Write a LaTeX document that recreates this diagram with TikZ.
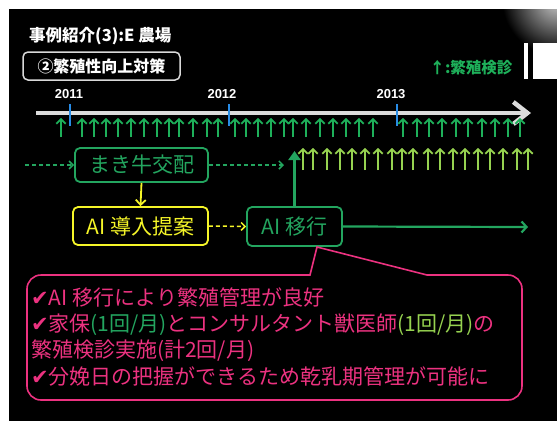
\documentclass[tikz,border=0pt]{standalone}
\usepackage{fontspec}
\setmainfont{Noto Sans CJK JP}
\newfontfamily\djv{DejaVu Sans}
\newfontfamily\arl{Liberation Sans}
\usetikzlibrary{arrows.meta}
\definecolor{tgreen}{RGB}{30,176,90}
\definecolor{lgreen}{RGB}{150,210,80}
\definecolor{bgreen}{RGB}{35,165,95}
\definecolor{yel}{RGB}{245,245,40}
\definecolor{pnk}{RGB}{236,50,128}
\definecolor{tblue}{RGB}{40,140,230}
\definecolor{tgray}{RGB}{220,220,220}
\begin{document}
\begin{tikzpicture}[x=1pt,y=-1pt,
  sarrow/.style={line width=1.8pt,-{Straight Barb[length=4.5pt,width=9.5pt]}},
  gbox/.style={draw=bgreen,text=bgreen,line width=1.8pt,rounded corners=5pt,inner sep=0pt,font=\fontsize{21}{24}\selectfont},
  ybox/.style={draw=yel,text=yel,line width=1.8pt,rounded corners=5pt,inner sep=0pt,font=\fontsize{21}{24}\selectfont},
  yeartxt/.style={text=white,inner sep=0pt,font=\arl\bfseries\fontsize{13}{15}\selectfont},
  cotext/.style={anchor=west,text=pnk,inner sep=0pt,font=\fontsize{21}{24}\selectfont},
  dasharr/.style={dash pattern=on 4pt off 3pt,line width=1.5pt,-{Straight Barb[length=4pt,width=8pt]}}
]
\useasboundingbox (0,0) rectangle (557,421);
\fill[white] (0,0) rectangle (557,421);
\fill[black] (9,9) rectangle (557,421);
\begin{scope}
  \clip (9,9) rectangle (557,421);
  \shade[inner color=gray!40, outer color=black] (557,0) circle (55);
\end{scope}
\fill[white] (524,43) rectangle (528,79);
\fill[white] (533,43) rectangle (557,79);

% title and subtitle
\node[anchor=west,text=white,inner sep=0pt,font=\fontsize{16.5}{19}\selectfont\bfseries] (title) at (29,36) {事例紹介(3):E 農場};
\node[draw=white!85!black,line width=1.5pt,rounded corners=5pt,minimum width=157pt,minimum height=28pt,inner sep=0pt,text=white,font=\fontsize{16}{19}\selectfont\bfseries] (sub) at (101.5,66) {②繁殖性向上対策};
\node[text=tgreen,inner sep=0pt,font=\fontsize{15.5}{18}\selectfont\bfseries] (legend) at (471,68) {↑:繁殖検診};

% years
\node[yeartxt] (y2011) at (69,94) {2011};
\node[yeartxt] (y2012) at (222,94) {2012};
\node[yeartxt] (y2013) at (391,94) {2013};

% timeline
\coordinate (tl0) at (36,113);
\coordinate (tl1) at (531,113);
\draw[tgray,line width=4.5pt,-{Straight Barb[length=14pt,width=22pt]}] (tl0) -- (tl1);
\foreach \x in {70,229,397} \draw[tblue,line width=2pt] (\x,104) -- (\x,126);

% exam arrows
\foreach \x in {61,82,94,106,118,131,144,157,169,179,193,207,218,235,246,258,271,284,293,306,320,333,346,359,373,403,417,429,442,456,468,482,495,508,520}
  \draw[sarrow,tgreen] (\x,137) -- (\x,118);
\foreach \x in {303,313,327,340,352,365,378,392,402,413,428,440,453,465,478,490,503,517,528}
  \draw[sarrow,lgreen] (\x,170) -- (\x,148);

% boxes
\node[gbox,minimum width=133pt,minimum height=34pt] (maki) at (141.5,165) {まき牛交配};
\node[ybox,minimum width=135pt,minimum height=38pt] (ai1) at (140.5,226) {AI 導入提案};
\node[gbox,minimum width=95pt,minimum height=39pt] (ai2) at (294.5,226.5) {AI 移行};

\coordinate (ds) at (25,165);
\coordinate (de) at (284,165);
\coordinate (up) at (294.5,151);
\coordinate (re) at (528,227);
\draw[dasharr,bgreen] (ds) -- (maki.west);
\draw[dasharr,bgreen] (maki.east) -- (de);
\draw[yel,line width=1.8pt,-{Straight Barb[length=5pt,width=10pt]}] (maki.south) -- (ai1.north);
\draw[dasharr,yel] (ai1.east) -- (ai2.west);
\draw[bgreen,line width=3pt,-{Triangle[length=9pt,width=12pt]}] (ai2.north) -- (up);
\draw[bgreen,line width=2.2pt,-{Straight Barb[length=5pt,width=11pt]}] (ai2.east) -- (re);

% callout
\coordinate (tip) at (317,247);
\coordinate (pl) at (310,275);
\coordinate (pr) at (427,275);
\draw[pnk,line width=1.6pt] (pl) -- (tip) -- (pr) [rounded corners=14pt] -- (522,275) -- (522,400) -- (27,400) -- (27,275) [sharp corners] -- cycle;

\node[cotext] (l1) at (31,298) {{\djv ✔}AI 移行により繁殖管理が良好};
\node[cotext] (l2) at (31,325) {{\djv ✔}家保\textcolor{bgreen}{(1回/月)}とコンサルタント獣医師\textcolor{lgreen}{(1回/月)}の};
\node[cotext] (l3) at (31,351) {繁殖検診実施(計2回/月)};
\node[cotext] (l4) at (31,377) {{\djv ✔}分娩日の把握ができるため乾乳期管理が可能に};
\end{tikzpicture}
\end{document}
